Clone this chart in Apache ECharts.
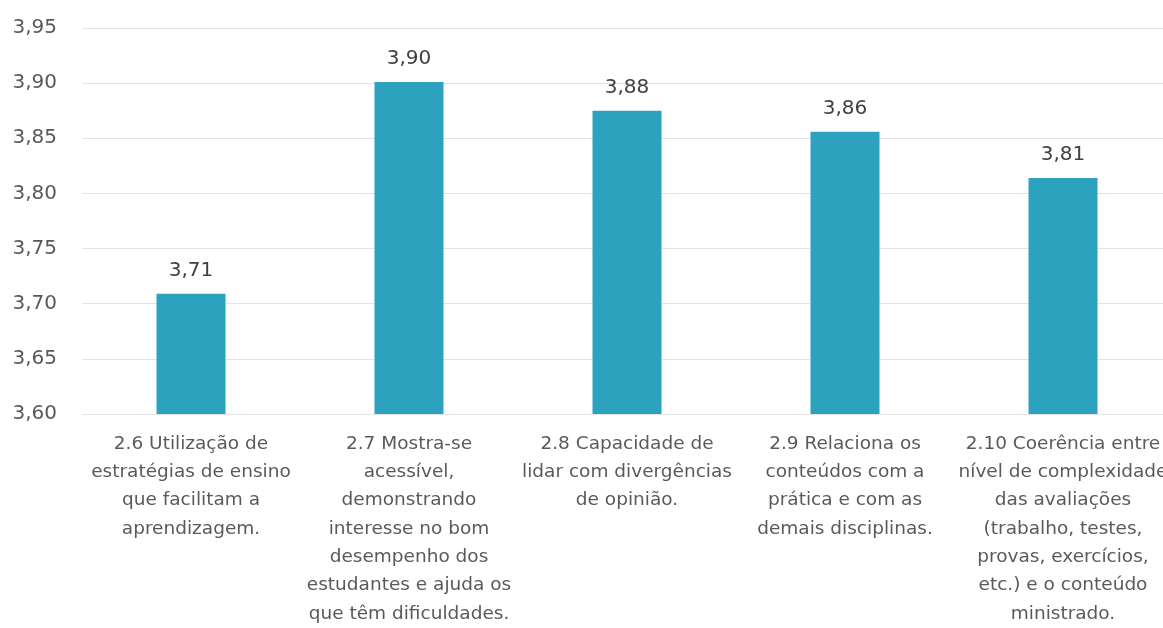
<!DOCTYPE html>
<html>
<head>
<meta charset="utf-8">
<script src="https://cdn.jsdelivr.net/npm/echarts@6/dist/echarts.min.js"></script>
<style>
html,body{margin:0;padding:0;background:#fff;overflow:hidden;}
#c{width:1172px;height:628px;}
</style>
</head>
<body>
<div id="c"></div>
<script>
const categories = [
  "2.6 Utilização de\nestratégias de ensino\nque facilitam a\naprendizagem.",
  "2.7 Mostra-se\nacessível,\ndemonstrando\ninteresse no bom\ndesempenho dos\nestudantes e ajuda os\nque têm dificuldades.",
  "2.8 Capacidade de\nlidar com divergências\nde opinião.",
  "2.9 Relaciona os\nconteúdos com a\nprática e com as\ndemais disciplinas.",
  "2.10 Coerência entre\nnível de complexidade\ndas avaliações\n(trabalho, testes,\nprovas, exercícios,\netc.) e o conteúdo\nministrado."
];
const values = [3.709, 3.901, 3.875, 3.856, 3.814];
const yMin = 3.60, yMax = 3.95, yStep = 0.05;

const chart = echarts.init(document.getElementById('c'));
const fmt = v => (Math.round(Number(v) * 100) / 100).toFixed(2).replace('.', ',');
chart.setOption({
  animation: false,
  grid: { left: 82, right: 0, top: 28, bottom: 214, containLabel: false },
  xAxis: {
    type: 'category',
    data: categories,
    axisLine: { show: false },
    axisTick: { show: false },
    axisLabel: {
      interval: 0,
      margin: 16,
      color: '#5a5a5a',
      fontFamily: 'DejaVu Sans',
      fontSize: 18.5,
      lineHeight: 28.3,
      align: 'center'
    }
  },
  yAxis: {
    type: 'value',
    min: yMin, max: yMax, interval: yStep,
    axisLine: { show: false },
    axisTick: { show: false },
    splitLine: { lineStyle: { color: '#e3e3e3', width: 1 } },
    axisLabel: {
      margin: 25,
      color: '#595959',
      fontFamily: 'DejaVu Sans',
      fontSize: 20,
      formatter: fmt
    }
  },
  series: [{
    type: 'bar',
    data: values,
    barWidth: 69,
    itemStyle: { color: '#2ca2bf' },
    label: {
      show: true,
      position: 'top',
      distance: 13,
      color: '#404040',
      fontFamily: 'DejaVu Sans',
      fontSize: 20,
      formatter: p => fmt(p.value)
    }
  }]
});
</script>
</body>
</html>
